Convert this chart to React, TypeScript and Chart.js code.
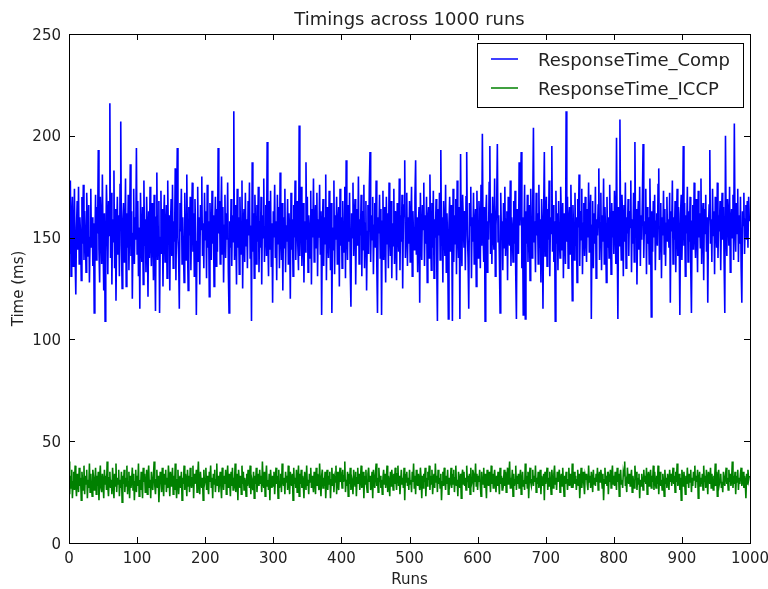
import React, { useEffect, useRef } from "react";
import { Chart, registerables } from "chart.js";

Chart.register(...registerables);

const TITLE = "Timings across 1000 runs";
const X_TITLE = "Runs";
const Y_TITLE = "Time (ms)";
const SERIES_NAMES = ["ResponseTime_Comp", "ResponseTime_ICCP"];
const SERIES_COLORS = ["#0000ff", "#008000"];
const X_TICKS = [0, 100, 200, 300, 400, 500, 600, 700, 800, 900, 1000];
const Y_TICKS = [0, 50, 100, 150, 200, 250];

const COMP = [
  165, 142, 178, 131, 158, 170, 136, 149, 174, 140, 122, 155, 168, 144, 175, 137, 160, 151, 129, 170,
  147, 176, 139, 163, 152, 133, 172, 158, 141, 166, 128, 150, 174, 145, 160, 136, 157, 113, 148, 171,
  139, 165, 152, 193, 144, 128, 170, 156, 137, 181, 149, 124, 162, 109, 143, 176, 158, 132, 168, 151,
  216, 140, 172, 127, 159, 148, 183, 135, 164, 119, 153, 170, 142, 161, 131, 176, 207, 146, 125, 158,
  167, 138, 150, 179, 126, 162, 145, 171, 134, 157, 186, 141, 163, 120, 152, 174, 137, 160, 149, 194,
  142, 168, 131, 155, 115, 172, 150, 138, 165, 127, 178, 146, 159, 133, 170, 152, 121, 163, 140, 175,
  148, 136, 167, 153, 129, 171, 145, 114, 160, 182, 139, 155, 168, 113, 150, 173, 142, 164, 126, 157,
  171, 138, 152, 166, 130, 178, 147, 161, 124, 156, 169, 141, 176, 135, 158, 148, 184, 129, 163, 194,
  150, 140, 115, 167, 153, 174, 137, 160, 145, 128, 172, 155, 139, 181, 146, 124, 165, 151, 170, 134,
  158, 177, 143, 162, 131, 169, 152, 112, 148, 175, 138, 160, 127, 166, 154, 180, 141, 157, 135, 172,
  149, 163, 130, 176, 145, 158, 121, 167, 152, 139, 173, 147, 161, 126, 155, 170, 136, 164, 143, 194,
  152, 168, 137, 159, 180, 142, 165, 128, 156, 171, 140, 162, 149, 177, 133, 113, 158, 145, 169, 136,
  161, 148, 212, 139, 166, 153, 127, 174, 145, 160, 132, 170, 151, 142, 178, 125, 157, 164, 138, 172,
  146, 159, 135, 168, 151, 177, 140, 156, 109, 187, 143, 162, 130, 171, 154, 137, 166, 148, 175, 133,
  158, 145, 170, 127, 161, 150, 179, 138, 155, 166, 141, 197, 149, 131, 168, 144, 173, 136, 157, 118,
  163, 150, 176, 140, 158, 129, 171, 147, 165, 135, 182, 152, 139, 167, 124, 160, 145, 174, 133, 156,
  148, 169, 137, 162, 153, 120, 172, 144, 159, 131, 166, 150, 178, 139, 157, 168, 146, 134, 205, 141,
  160, 175, 136, 152, 167, 128, 158, 143, 187, 149, 170, 133, 161, 155, 140, 173, 127, 164, 150, 179,
  138, 157, 166, 145, 172, 131, 159, 150, 176, 142, 163, 112, 154, 169, 136, 160, 147, 181, 129, 165,
  151, 140, 173, 158, 134, 167, 113, 155, 144, 178, 132, 161, 149, 170, 137, 156, 165, 126, 174, 146,
  160, 135, 168, 152, 143, 175, 130, 188, 154, 139, 166, 148, 172, 134, 116, 162, 150, 177, 141, 158,
  169, 127, 155, 164, 146, 180, 137, 159, 151, 171, 131, 163, 144, 176, 135, 157, 168, 124, 153, 166,
  142, 175, 192, 138, 161, 149, 170, 132, 156, 167, 145, 178, 136, 113, 160, 152, 171, 140, 164, 112,
  158, 173, 139, 165, 150, 128, 170, 147, 162, 135, 177, 153, 141, 168, 130, 157, 146, 174, 137, 163,
  150, 129, 167, 156, 143, 179, 134, 161, 148, 171, 125, 159, 166, 188, 140, 155, 172, 136, 160, 147,
  168, 138, 157, 175, 131, 163, 150, 144, 170, 188, 142, 160, 133, 156, 165, 118, 172, 149, 139, 166,
  154, 177, 136, 161, 147, 170, 128, 158, 165, 140, 181, 152, 134, 167, 145, 173, 130, 159, 150, 169,
  137, 109, 164, 151, 172, 139, 193, 146, 160, 128, 168, 155, 141, 176, 133, 162, 149, 110, 157, 170,
  143, 166, 152, 109, 174, 138, 161, 147, 169, 132, 178, 154, 140, 165, 110, 191, 148, 136, 171, 158,
  145, 163, 134, 170, 192, 151, 140, 115, 167, 156, 175, 130, 160, 148, 172, 137, 155, 164, 126, 173,
  150, 140, 168, 157, 135, 176, 146, 201, 153, 138, 165, 109, 160, 171, 133, 158, 149, 177, 195, 142,
  162, 137, 170, 152, 144, 179, 131, 156, 166, 196, 148, 161, 139, 113, 172, 150, 158, 134, 167, 145,
  175, 141, 159, 163, 129, 170, 152, 146, 178, 136, 160, 155, 138, 168, 147, 173, 132, 110, 164, 151,
  142, 187, 156, 169, 192, 135, 160, 112, 150, 176, 110, 163, 147, 171, 138, 158, 166, 129, 174, 153,
  140, 167, 204, 148, 158, 133, 172, 151, 162, 137, 176, 145, 159, 128, 169, 155, 115, 163, 192, 141,
  157, 170, 136, 164, 149, 178, 131, 160, 152, 195, 143, 166, 138, 158, 109, 173, 147, 162, 134, 168,
  151, 140, 175, 159, 144, 167, 130, 162, 153, 137, 212, 148, 170, 135, 158, 165, 142, 176, 150, 119,
  166, 153, 139, 172, 146, 160, 128, 169, 155, 181, 136, 163, 149, 174, 132, 157, 167, 141, 170, 152,
  138, 164, 150, 177, 143, 158, 171, 110, 156, 168, 135, 162, 147, 175, 130, 159, 151, 166, 184, 139,
  157, 172, 134, 161, 148, 179, 137, 165, 152, 128, 170, 145, 160, 140, 176, 155, 132, 167, 150, 163,
  142, 173, 156, 137, 199, 150, 110, 165, 146, 208, 153, 139, 171, 158, 131, 166, 148, 177, 135, 160,
  152, 169, 141, 163, 155, 178, 133, 159, 147, 172, 138, 197, 150, 164, 127, 157, 168, 144, 175, 136,
  161, 149, 170, 196, 140, 158, 152, 174, 132, 165, 147, 160, 137, 179, 155, 111, 163, 143, 168, 150,
  171, 134, 158, 162, 146, 176, 184, 139, 155, 167, 130, 160, 151, 173, 142, 164, 136, 157, 170, 148,
  159, 145, 172, 118, 163, 153, 178, 137, 160, 149, 168, 133, 156, 174, 141, 165, 150, 112, 162, 171,
  139, 157, 195, 146, 167, 131, 161, 152, 175, 138, 163, 148, 170, 135, 113, 158, 166, 144, 177, 153,
  140, 169, 156, 133, 173, 150, 162, 145, 179, 137, 158, 167, 129, 164, 152, 171, 143, 160, 118, 155,
  166, 193, 147, 159, 138, 174, 151, 163, 132, 170, 156, 145, 177, 140, 161, 153, 168, 134, 158, 172,
  149, 165, 137, 113, 200, 154, 141, 169, 160, 146, 175, 133, 158, 164, 150, 171, 139, 206, 155, 143,
  167, 152, 174, 138, 161, 147, 170, 135, 118, 163, 156, 172, 142, 159, 166, 149, 168, 145, 170, 158,
];

const ICCP = [
  40, 24, 33, 27, 36, 22, 30, 35, 26, 38, 29, 23, 34, 31, 25, 37, 28, 32, 21, 35,
  30, 26, 38, 24, 33, 29, 36, 22, 31, 27, 39, 25, 34, 28, 23, 36, 32, 26, 30, 37,
  24, 33, 28, 35, 21, 31, 38, 27, 25, 34, 30, 22, 36, 29, 33, 26, 40, 28, 23, 32,
  35, 27, 31, 24, 37, 30, 22, 34, 28, 39, 25, 32, 29, 36, 23, 31, 27, 35, 20, 33,
  29, 36, 25, 32, 28, 38, 24, 30, 35, 22, 33, 27, 31, 37, 26, 34, 21, 30, 36, 25,
  33, 28, 39, 23, 31, 26, 35, 29, 22, 37, 30, 34, 25, 28, 36, 24, 32, 38, 27, 31,
  22, 35, 30, 26, 33, 40, 28, 24, 31, 36, 27, 33, 20, 29, 35, 32, 25, 37, 30, 23,
  34, 29, 36, 25, 32, 27, 38, 31, 23, 35, 28, 30, 37, 24, 33, 26, 39, 29, 22, 31,
  36, 24, 30, 33, 27, 35, 21, 32, 29, 38, 26, 34, 31, 23, 36, 28, 33, 25, 37, 30,
  27, 32, 38, 22, 34, 29, 31, 36, 25, 33, 40, 28, 24, 35, 30, 27, 32, 21, 36, 29,
  31, 37, 26, 33, 28, 24, 35, 30, 38, 27, 32, 22, 34, 29, 36, 25, 31, 39, 28, 33,
  25, 30, 35, 28, 22, 37, 32, 26, 33, 29, 36, 24, 31, 38, 27, 34, 30, 23, 35, 28,
  37, 26, 32, 30, 39, 25, 29, 34, 21, 36, 31, 27, 33, 24, 38, 29, 35, 26, 32, 30,
  23, 34, 28, 36, 31, 27, 38, 24, 32, 30, 26, 35, 22, 33, 29, 37, 25, 31, 34, 28,
  36, 29, 33, 25, 40, 30, 27, 35, 23, 32, 38, 28, 31, 26, 34, 21, 36, 30, 27, 33,
  28, 35, 24, 31, 37, 29, 33, 22, 36, 27, 30, 34, 25, 39, 31, 28, 32, 24, 35, 30,
  33, 26, 38, 30, 24, 35, 31, 28, 34, 21, 37, 29, 32, 27, 36, 25, 30, 38, 23, 34,
  29, 36, 27, 33, 30, 22, 35, 32, 26, 38, 28, 31, 24, 34, 30, 37, 27, 33, 29, 25,
  35, 31, 24, 37, 28, 34, 30, 26, 39, 29, 23, 33, 36, 27, 32, 28, 35, 22, 31, 36,
  26, 33, 29, 35, 22, 31, 37, 28, 34, 25, 32, 30, 38, 24, 35, 29, 26, 33, 37, 30,
  32, 27, 36, 30, 33, 40, 25, 31, 28, 35, 23, 34, 29, 37, 26, 32, 30, 24, 36, 31,
  28, 35, 23, 32, 37, 29, 34, 26, 31, 38, 27, 30, 35, 22, 33, 29, 36, 28, 25, 34,
  37, 30, 33, 26, 29, 35, 22, 36, 31, 27, 34, 39, 28, 32, 25, 37, 30, 33, 27, 31,
  24, 32, 36, 29, 34, 27, 31, 38, 25, 33, 30, 23, 35, 28, 36, 31, 26, 34, 29, 37,
  31, 26, 34, 38, 28, 33, 24, 30, 36, 29, 32, 27, 37, 21, 34, 30, 35, 28, 32, 26,
  36, 29, 31, 25, 35, 30, 39, 27, 33, 24, 36, 31, 28, 34, 30, 26, 37, 32, 22, 33,
  27, 34, 30, 37, 23, 32, 28, 35, 31, 38, 26, 33, 29, 36, 24, 31, 34, 27, 39, 30,
  33, 25, 36, 29, 32, 27, 34, 21, 30, 35, 28, 37, 31, 26, 33, 29, 36, 24, 32, 28,
  30, 37, 27, 34, 29, 36, 25, 32, 38, 28, 31, 23, 35, 30, 27, 34, 22, 33, 36, 29,
  35, 28, 32, 26, 38, 30, 33, 27, 34, 24, 37, 29, 31, 36, 25, 32, 30, 39, 28, 34,
  26, 33, 30, 36, 28, 23, 35, 31, 29, 37, 27, 34, 30, 22, 36, 32, 28, 35, 31, 25,
  38, 29, 34, 27, 32, 36, 30, 25, 33, 28, 35, 31, 24, 37, 29, 33, 26, 32, 30, 36,
  28, 35, 25, 31, 37, 29, 33, 40, 27, 32, 30, 36, 23, 34, 28, 31, 38, 26, 33, 29,
  34, 27, 32, 36, 24, 30, 35, 28, 31, 26, 39, 29, 33, 27, 35, 22, 32, 37, 30, 28,
  31, 36, 28, 33, 30, 38, 25, 32, 29, 35, 27, 31, 36, 24, 33, 30, 28, 34, 21, 35,
  29, 33, 37, 26, 32, 28, 35, 30, 24, 36, 31, 27, 34, 38, 29, 32, 26, 35, 30, 33,
  36, 25, 31, 34, 28, 37, 30, 23, 33, 29, 35, 32, 26, 31, 37, 28, 34, 30, 27, 39,
  27, 32, 35, 29, 33, 26, 31, 36, 28, 34, 22, 30, 37, 27, 32, 35, 29, 24, 33, 31,
  34, 29, 26, 38, 30, 33, 27, 35, 31, 25, 36, 29, 32, 28, 34, 30, 37, 26, 31, 35,
  30, 36, 32, 27, 34, 21, 31, 37, 29, 33, 28, 35, 24, 32, 30, 36, 27, 33, 38, 29,
  33, 28, 35, 31, 26, 37, 30, 34, 23, 32, 36, 29, 31, 27, 35, 33, 40, 28, 30, 25,
  37, 31, 29, 34, 28, 32, 36, 25, 33, 30, 27, 38, 31, 35, 26, 32, 29, 34, 22, 31,
  28, 34, 31, 26, 36, 30, 33, 29, 37, 24, 32, 35, 28, 31, 36, 27, 33, 30, 38, 26,
  35, 30, 27, 33, 29, 38, 24, 32, 35, 28, 31, 26, 34, 30, 23, 36, 29, 32, 27, 34,
  31, 26, 36, 30, 34, 28, 32, 37, 29, 33, 25, 35, 30, 39, 28, 31, 34, 26, 32, 21,
  36, 32, 28, 35, 30, 24, 33, 29, 37, 31, 27, 34, 30, 36, 25, 32, 28, 35, 31, 38,
  27, 33, 30, 36, 22, 31, 35, 28, 32, 29, 34, 26, 38, 30, 33, 27, 36, 31, 24, 35,
  32, 29, 37, 27, 34, 30, 26, 33, 31, 39, 28, 35, 23, 32, 36, 29, 31, 34, 27, 30,
  25, 35, 31, 28, 33, 37, 29, 32, 26, 36, 30, 34, 28, 31, 40, 27, 33, 29, 35, 24,
  33, 30, 36, 26, 32, 29, 34, 37, 28, 31, 35, 27, 33, 30, 22, 34, 29, 36, 31, 33,
];

const RUNS = COMP.map((_, i) => i);

const W = 768;
const H = 589;
const FONT = "'DejaVu Sans', sans-serif";

const decorPlugin = {
  id: "mplDecor",
  afterDraw(chart: any) {
    const { ctx, chartArea } = chart;
    const xs = chart.scales.x;
    const ys = chart.scales.y;
    const L = Math.round(chartArea.left);
    const R = Math.round(chartArea.right);
    const T = Math.round(chartArea.top);
    const B = Math.round(chartArea.bottom);
    ctx.save();

    ctx.strokeStyle = "#000";
    ctx.lineWidth = 1;
    ctx.strokeRect(L + 0.5, T + 0.5, R - L, B - T);

    const TL = 6;
    ctx.beginPath();
    xs.ticks.forEach((t: any) => {
      const px = Math.round(xs.getPixelForValue(t.value)) + 0.5;
      ctx.moveTo(px, B);
      ctx.lineTo(px, B - TL);
      ctx.moveTo(px, T);
      ctx.lineTo(px, T + TL);
    });
    ys.ticks.forEach((t: any) => {
      const py = Math.round(ys.getPixelForValue(t.value)) + 0.5;
      ctx.moveTo(L, py);
      ctx.lineTo(L + TL, py);
      ctx.moveTo(R, py);
      ctx.lineTo(R - TL, py);
    });
    ctx.stroke();

    ctx.fillStyle = "#222";
    ctx.font = `15px ${FONT}`;
    ctx.textBaseline = "alphabetic";
    ctx.textAlign = "center";
    xs.ticks.forEach((t: any) => {
      const px = xs.getPixelForValue(t.value);
      ctx.fillText(String(t.value), px, B + 20);
    });
    ctx.textAlign = "right";
    ys.ticks.forEach((t: any) => {
      const py = ys.getPixelForValue(t.value);
      ctx.fillText(String(t.value), L - 8, py + 5.5);
    });

    ctx.textAlign = "center";
    ctx.fillText(X_TITLE, (L + R) / 2, B + 41);
    ctx.save();
    ctx.translate(23, (T + B) / 2);
    ctx.rotate(-Math.PI / 2);
    ctx.fillText(Y_TITLE, 0, 0);
    ctx.restore();

    ctx.font = `18px ${FONT}`;
    ctx.fillText(TITLE, (L + R) / 2, 25);

    const bx = 477.5;
    const by = 43.5;
    const bw = 266;
    const bh = 64;
    ctx.fillStyle = "#fff";
    ctx.fillRect(bx, by, bw, bh);
    ctx.strokeStyle = "#000";
    ctx.lineWidth = 1;
    ctx.strokeRect(bx, by, bw, bh);
    const rows = [59, 88];
    ctx.font = `18px ${FONT}`;
    ctx.textAlign = "left";
    SERIES_NAMES.forEach((name, i) => {
      ctx.strokeStyle = SERIES_COLORS[i];
      ctx.lineWidth = 1.5;
      ctx.beginPath();
      ctx.moveTo(491, rows[i]);
      ctx.lineTo(518, rows[i]);
      ctx.stroke();
      ctx.fillStyle = "#222";
      ctx.fillText(name, 538, rows[i] + 6.5);
    });

    ctx.restore();
  },
};

export default function App() {
  const ref = useRef<HTMLCanvasElement | null>(null);

  useEffect(() => {
    if (!ref.current) return;
    const chart = new Chart(ref.current, {
      type: "line",
      data: {
        labels: RUNS,
        datasets: [
          {
            label: SERIES_NAMES[0],
            data: COMP,
            borderColor: SERIES_COLORS[0],
            backgroundColor: SERIES_COLORS[0],
            borderWidth: 1.6,
            pointRadius: 0,
            tension: 0,
            fill: false,
          },
          {
            label: SERIES_NAMES[1],
            data: ICCP,
            borderColor: SERIES_COLORS[1],
            backgroundColor: SERIES_COLORS[1],
            borderWidth: 1.6,
            pointRadius: 0,
            tension: 0,
            fill: false,
          },
        ],
      },
      options: {
        animation: false,
        responsive: false,
        devicePixelRatio: 1,
        layout: { padding: { top: 34, right: 18, left: 0, bottom: 0 } },
        plugins: {
          legend: { display: false },
          title: { display: false },
          tooltip: { enabled: false },
        },
        scales: {
          x: {
            type: "linear",
            min: 0,
            max: 1000,
            grid: { display: false },
            border: { display: false },
            ticks: { display: false },
            afterBuildTicks: (s: any) => {
              s.ticks = X_TICKS.map((v) => ({ value: v }));
            },
            afterFit: (s: any) => {
              s.height = 46;
            },
          },
          y: {
            type: "linear",
            min: 0,
            max: 250,
            grid: { display: false },
            border: { display: false },
            ticks: { display: false },
            afterBuildTicks: (s: any) => {
              s.ticks = Y_TICKS.map((v) => ({ value: v }));
            },
            afterFit: (s: any) => {
              s.width = 69;
            },
          },
        },
      } as any,
      plugins: [decorPlugin],
    });
    return () => chart.destroy();
  }, []);

  return (
    <div style={{ position: "absolute", left: 0, top: 0, width: W, height: H, background: "#fff" }}>
      <canvas ref={ref} width={W} height={H} style={{ display: "block", width: W, height: H }} />
    </div>
  );
}
